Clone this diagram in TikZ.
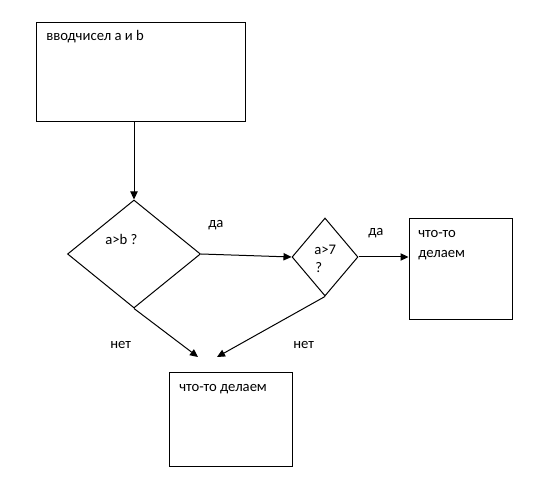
\documentclass[tikz,border=0pt]{standalone}
\usepackage{fontspec}
\setmainfont{Carlito}
\usetikzlibrary{shapes.geometric,arrows.meta}
\begin{document}
\begin{tikzpicture}[x=0.75pt,y=-0.75pt,
  box/.style={draw,line width=0.75pt,rectangle,inner sep=0pt},
  dia/.style={draw,line width=0.75pt,diamond,inner sep=0pt},
  lbl/.style={anchor=base west,inner sep=0pt,font=\fontsize{11pt}{13pt}\selectfont},
  arr/.style={line width=0.75pt,-{Triangle[length=6pt,width=5.5pt]}}]
\useasboundingbox (0,0) rectangle (545,498);
\node[box,minimum width=156.75pt,minimum height=74.25pt] (b1) at (140.5,72.5) {};
\node[dia,minimum width=99.75pt,minimum height=81pt] (d1) at (134,254) {};
\node[dia,minimum width=49.5pt,minimum height=58.5pt] (d2) at (325,257) {};
\node[box,minimum width=77.25pt,minimum height=75.75pt] (b3) at (460.5,269.5) {};
\node[box,minimum width=92.25pt,minimum height=70.5pt] (b4) at (230.5,419) {};
\coordinate (e1) at (198,357);
\coordinate (e2) at (217,357);
\node[lbl] (t1) at (46,41) {вводчисел a и b};
\node[lbl] (t2) at (105,245) {a>b ?};
\node[lbl] (t3) at (208,228) {да};
\node[lbl] (t4) at (314,255) {a>7};
\node[lbl] (t5) at (315,273) {?};
\node[lbl] (t6) at (368,236) {да};
\node[lbl] (t7) at (418,238) {что-то};
\node[lbl] (t8) at (418,258) {делаем};
\node[lbl] (t9) at (110,349) {нет};
\node[lbl] (t10) at (293,349) {нет};
\node[lbl] (t11) at (179,391) {что-то делаем};
\draw[arr] (d1.north |- b1.south) -- (d1.north);
\draw[arr] (d1.east) -- (d2.west);
\draw[arr] (d2.east) -- (d2.east -| b3.west);
\draw[arr] (d1.south) -- (e1);
\draw[arr] (d2.south) -- (e2);
\end{tikzpicture}
\end{document}
